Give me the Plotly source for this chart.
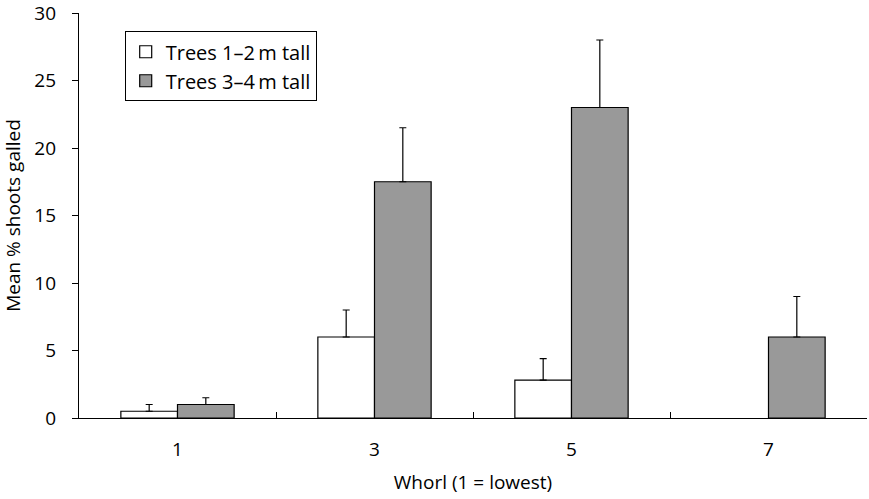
import plotly.graph_objects as go

whorls = ["1", "3", "5", "7"]
small_trees = [0.5, 6.0, 2.8, None]
small_err = [0.5, 2.0, 1.6, None]
tall_trees = [1.0, 17.5, 23.0, 6.0]
tall_err = [0.5, 4.0, 5.0, 3.0]

series_names = ["Trees 1\u20132\u2009m tall", "Trees 3\u20134\u2009m tall"]
font_family = "Open Sans, Noto Sans, sans-serif"
fs = 19

fig = go.Figure()
fig.add_trace(go.Bar(
    x=whorls, y=small_trees, name=series_names[0],
    marker=dict(color="white", line=dict(color="black", width=1.2)),
    error_y=dict(type="data", array=small_err, symmetric=False, arrayminus=[0, 0, 0, 0],
                 color="black", thickness=1.2, width=3.5),
))
fig.add_trace(go.Bar(
    x=whorls, y=tall_trees, name=series_names[1],
    marker=dict(color="#999999", line=dict(color="black", width=1.2)),
    error_y=dict(type="data", array=tall_err, symmetric=False, arrayminus=[0, 0, 0, 0],
                 color="black", thickness=1.2, width=3.5),
))

fig.update_layout(
    width=869, height=499,
    margin=dict(l=79, r=2, t=13, b=81),
    paper_bgcolor="white", plot_bgcolor="white",
    barmode="group", bargap=0.425, bargroupgap=0,
    font=dict(family=font_family, size=fs, color="black"),
    legend=dict(
        x=0.058, y=0.955, xanchor="left", yanchor="top",
        bordercolor="black", borderwidth=1, bgcolor="white",
        font=dict(size=20), itemwidth=30, tracegroupgap=0,
    ),
    showlegend=True,
)
fig.update_xaxes(
    type="category", showline=True, linecolor="black", linewidth=1.2,
    ticks="inside", tickson="boundaries", ticklen=6, tickcolor="black", tickwidth=1.2,
    showgrid=False, zeroline=False, automargin=False,
    ticklabelstandoff=14,
    title=dict(text="Whorl (1 = lowest)", standoff=14, font=dict(size=fs)),
    tickfont=dict(size=fs),
)
fig.update_yaxes(
    range=[0, 30], tickvals=[0, 5, 10, 15, 20, 25, 30],
    showline=True, linecolor="black", linewidth=1.2,
    ticks="outside", ticklen=6, tickcolor="black", tickwidth=1.2,
    showgrid=False, zeroline=False, automargin=False,
    ticklabelstandoff=12, ticklabeloverflow="allow",
    title=dict(text="Mean % shoots galled", standoff=8, font=dict(size=fs)),
    tickfont=dict(size=fs),
)

fig.write_html("out.html", config={"displayModeBar": False},
               post_script="document.body.style.margin='0';")
